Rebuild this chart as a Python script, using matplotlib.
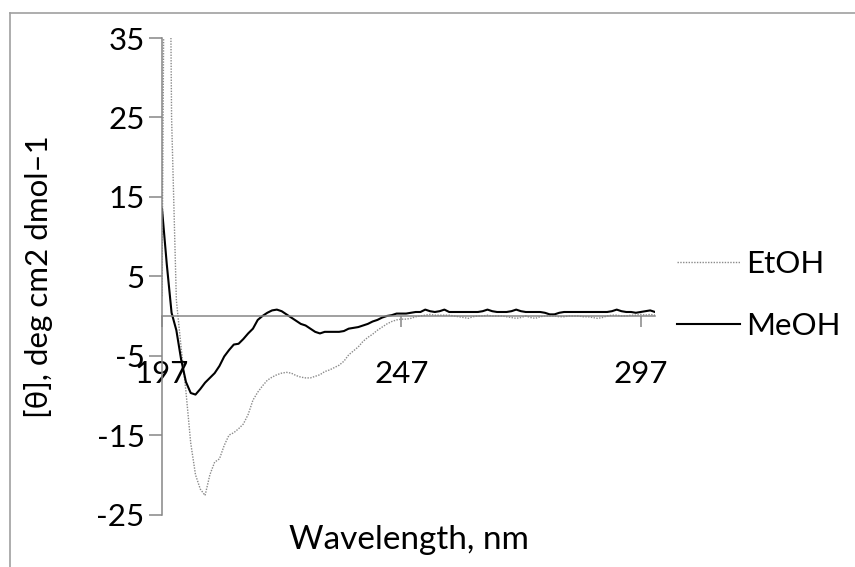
import matplotlib
matplotlib.use('Agg')
import matplotlib.pyplot as plt
from matplotlib.lines import Line2D

# CD spectra, 1 nm steps
wavelength = list(range(197, 301))

meoh = [13.5, 6.5, 0.4, -1.8, -5.5, -8.3, -9.7, -9.9, -9.2, -8.4,
        -7.8, -7.2, -6.3, -5.1, -4.3, -3.6, -3.5, -2.9, -2.2, -1.6,
        -0.5, 0.0, 0.4, 0.7, 0.8, 0.6, 0.2, -0.2, -0.6, -1.0,
        -1.2, -1.6, -2.0, -2.2, -2.0, -2.0, -2.0, -2.0, -1.9, -1.6,
        -1.5, -1.4, -1.2, -1.0, -0.7, -0.5, -0.2, 0.0, 0.1, 0.3,
        0.3, 0.3, 0.4, 0.5, 0.5, 0.8, 0.6, 0.5, 0.6, 0.8,
        0.5, 0.5, 0.5, 0.5, 0.5, 0.5, 0.5, 0.6, 0.8, 0.6,
        0.5, 0.5, 0.5, 0.6, 0.8, 0.6, 0.5, 0.5, 0.5, 0.5,
        0.4, 0.2, 0.2, 0.4, 0.5, 0.5, 0.5, 0.5, 0.5, 0.5,
        0.5, 0.5, 0.5, 0.5, 0.6, 0.8, 0.6, 0.5, 0.5, 0.4,
        0.5, 0.6, 0.7, 0.5]

etoh = [2.5, 100, 25, 2.0, -4.0, -9.5, -16.0, -20.0, -21.8, -22.6,
        -20.0, -18.4, -18.0, -16.3, -15.0, -14.7, -14.2, -13.6, -12.4, -10.6,
        -9.6, -8.8, -8.1, -7.7, -7.4, -7.2, -7.1, -7.2, -7.5, -7.7,
        -7.8, -7.8, -7.6, -7.4, -7.0, -6.8, -6.5, -6.2, -5.7, -4.9,
        -4.4, -3.9, -3.2, -2.7, -2.3, -1.8, -1.4, -1.0, -0.7, -0.5,
        -0.4, -0.4, -0.3, -0.1, 0.0, 0.1, 0.2, 0.1, 0.1, 0.1,
        0.1, 0.0, -0.1, -0.2, -0.3, -0.1, 0.0, 0.0, 0.1, 0.0,
        0.0, 0.0, -0.1, -0.2, -0.3, -0.2, 0.0, -0.2, -0.3, -0.1,
        0.0, 0.0, 0.0, -0.1, -0.1, 0.0, 0.0, 0.0, -0.1, -0.1,
        -0.2, -0.3, -0.2, 0.0, 0.1, 0.1, 0.0, 0.0, 0.1, 0.1,
        0.2, 0.1, 0.2, 0.1]

x_ticks = [197, 247, 297]
y_ticks = [-25, -15, -5, 5, 15, 25, 35]

plt.rcParams['font.family'] = ['Lato', 'DejaVu Sans']
plt.rcParams['axes.unicode_minus'] = False

W, H = 855, 567
fig = plt.figure(figsize=(W / 100, H / 100), dpi=100)
ax = fig.add_axes([162 / W, 1 - 514.5 / H, (655 - 162) / W, (514.5 - 38) / H])

axis_grey = '#868686'
ax.plot(wavelength, etoh, color='#8a8a8a', lw=1.0, ls=(0, (1, 1)), label='EtOH')
ax.plot(wavelength, meoh, color='black', lw=1.5, label='MeOH')

ax.set_xlim(197, 300)
ax.set_ylim(-25, 35)
ax.set_xticks(x_ticks)
ax.set_yticks(y_ticks)

for s in ['top', 'right']:
    ax.spines[s].set_visible(False)
ax.spines['bottom'].set_position(('data', 0))
for s in ['bottom', 'left']:
    ax.spines[s].set_color(axis_grey)
    ax.spines[s].set_linewidth(1.1)

ax.tick_params(axis='x', direction='out', length=8, width=1.1, color=axis_grey, pad=24, labelsize=22.5)
ax.tick_params(axis='y', direction='out', length=9.5, width=1.1, color=axis_grey, pad=3, labelsize=22.5)

ax.set_xlabel('Wavelength, nm', fontsize=24)
ax.xaxis.set_label_coords(0.5, -0.022)
ax.set_ylabel('[θ], deg cm2 dmol–1', fontsize=22.5)
ax.yaxis.set_label_coords(-0.222, 0.5)

ax.legend(loc='center left', bbox_to_anchor=(677 / W, 1 - 295 / H),
          bbox_transform=fig.transFigure, frameon=False, borderpad=0, borderaxespad=0,
          handlelength=2.0, handletextpad=0.2, labelspacing=1.1, fontsize=22.5)

# outer chart border (right and bottom edges fall outside the image)
fig.add_artist(Line2D([9.5 / W, 9.5 / W], [0, 1 - 12.5 / H], transform=fig.transFigure,
                      color='#a0a0a0', lw=1.2))
fig.add_artist(Line2D([9.5 / W, 1], [1 - 12.5 / H, 1 - 12.5 / H], transform=fig.transFigure,
                      color='#a0a0a0', lw=1.2))

fig.savefig('out.png', dpi=100)
